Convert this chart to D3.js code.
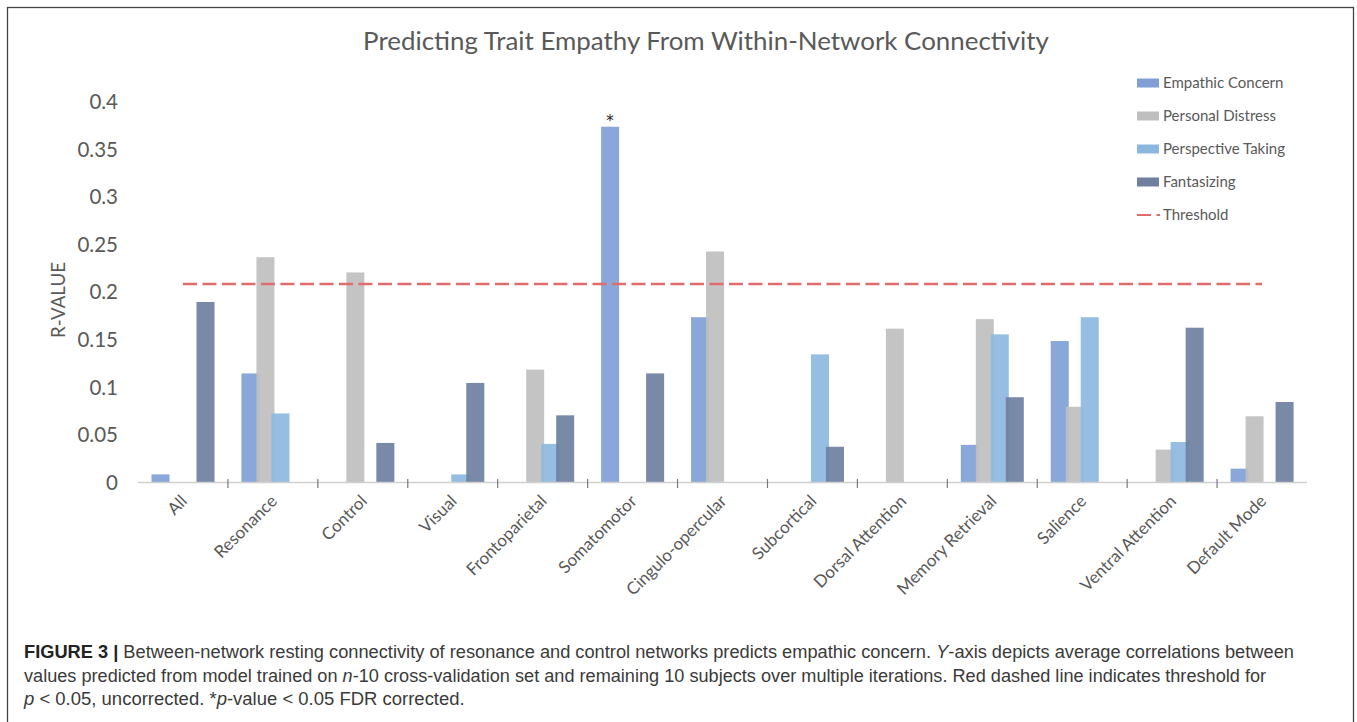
<!DOCTYPE html>
<html>
<head>
<meta charset="utf-8">
<script src="https://cdn.jsdelivr.net/npm/d3@7"></script>
<style>
  html, body { margin: 0; padding: 0; background: #ffffff; }
  svg { display: block; }
</style>
</head>
<body>
<svg id="chart" width="1357" height="722"></svg>
<script>
// ---------------- data ----------------
const categories = ["All", "Resonance", "Control", "Visual", "Frontoparietal", "Somatomotor",
  "Cingulo-opercular", "Subcortical", "Dorsal Attention", "Memory Retrieval", "Salience",
  "Ventral Attention", "Default Mode"];
const seriesNames = ["Empathic Concern", "Personal Distress", "Perspective Taking", "Fantasizing"];
const empathicConcern   = [0.008, 0.114, 0,     0,     0,     0.373, 0.173, 0,     0,     0.039, 0.148, 0,     0.014];
const personalDistress  = [0,     0.236, 0.220, 0,     0.118, 0,     0.242, 0,     0.161, 0.171, 0.079, 0.034, 0.069];
const perspectiveTaking = [0,     0.072, 0,     0.008, 0.040, 0,     0,     0.134, 0,     0.155, 0.173, 0.042, 0];
const fantasizing       = [0.189, 0,     0.041, 0.104, 0.070, 0.114, 0,     0.037, 0,     0.089, 0,     0.162, 0.084];
const thresholdValue = 0.208;
const yTicks = [0, 0.05, 0.1, 0.15, 0.2, 0.25, 0.3, 0.35, 0.4];
const significant = [{ category: "Somatomotor", series: "Empathic Concern", label: "*" }];
const titleText = "Predicting Trait Empathy From Within-Network Connectivity";
const yLabel = "R-VALUE";
const thresholdLabel = "Threshold";

// ---------------- styles ----------------
const seriesColors = ["#7f9fd5", "#bfbfbf", "#8cb8e0", "#6e7fa1"];
const textGray = "#595959";
const chartFont = "Lato, 'Open Sans', sans-serif";
const captionFont = "'Liberation Sans', Arial, sans-serif";

const seriesValues = [empathicConcern, personalDistress, perspectiveTaking, fantasizing];

const svg = d3.select("#chart");

// outer frame
svg.append("rect")
  .attr("x", 7.5).attr("y", 7.5).attr("width", 1346).attr("height", 740)
  .attr("fill", "none").attr("stroke", "#444").attr("stroke-width", 1.3);

// scales
const x = d3.scaleBand().domain(categories).range([138, 1307]).padding(0);
const xInner = d3.scaleBand().domain(seriesNames).range([13.5, 73.5]).padding(0);
const barW = xInner.bandwidth() * 1.2;
const y = d3.scaleLinear().domain([0, 0.4]).range([482, 101]);

function fitWidth(el, target) {
  const w = el.node().getComputedTextLength();
  const fs = parseFloat(el.attr("font-size"));
  el.attr("font-size", (fs * target / w).toFixed(2));
}

// title
const title = svg.append("text")
  .attr("x", 706).attr("y", 50)
  .attr("text-anchor", "middle")
  .attr("font-family", chartFont).attr("font-size", 22)
  .attr("fill", textGray)
  .text(titleText);
fitWidth(title, 686);

// y axis (labels only, no line)
const yAxis = d3.axisLeft(y).tickValues(yTicks).tickFormat(d => String(d)).tickSize(0).tickPadding(0);
const yG = svg.append("g").attr("transform", "translate(118,0)").call(yAxis);
yG.select(".domain").remove();
yG.selectAll("text")
  .attr("font-family", chartFont).attr("font-size", 20.5)
  .attr("fill", textGray).attr("dy", "0.36em");

// y label
const yl = svg.append("text")
  .attr("transform", "translate(65,300) rotate(-90)")
  .attr("text-anchor", "middle")
  .attr("font-family", chartFont).attr("font-size", 18)
  .attr("fill", textGray)
  .text(yLabel);
fitWidth(yl, 76);

// bars
const barsG = svg.append("g");
seriesNames.forEach((s, si) => {
  const data = categories.map((c, ci) => ({ c, v: seriesValues[si][ci] })).filter(d => d.v > 0);
  barsG.selectAll(null).data(data).enter().append("rect")
    .attr("x", d => x(d.c) + xInner(s))
    .attr("y", d => y(d.v))
    .attr("width", barW)
    .attr("height", d => y(0) - y(d.v))
    .attr("fill", seriesColors[si])
    .attr("fill-opacity", 0.92);
});

// x axis
const xAxisG = svg.append("g");
xAxisG.append("line")
  .attr("x1", x.range()[0]).attr("x2", x.range()[1])
  .attr("y1", y(0) + 0.5).attr("y2", y(0) + 0.5)
  .attr("stroke", "#d0d0d0").attr("stroke-width", 1.5);
xAxisG.selectAll(null).data(categories.slice(1)).enter().append("line")
  .attr("x1", d => x(d)).attr("x2", d => x(d))
  .attr("y1", y(0) - 3).attr("y2", y(0) + 6)
  .attr("stroke", "#7a7a7a").attr("stroke-width", 1.2);
xAxisG.selectAll(null).data(categories).enter().append("text")
  .attr("transform", d => `translate(${x(d) + x.bandwidth() / 2 + 1},${y(0) + 16}) rotate(-45)`)
  .attr("text-anchor", "end")
  .attr("dy", "0.35em")
  .attr("font-family", chartFont).attr("font-size", 17)
  .attr("fill", textGray)
  .text(d => d);

// threshold line (line series through category centres)
const thrLine = d3.line().x(d => x(d) + x.bandwidth() / 2).y(() => y(thresholdValue));
svg.append("path")
  .attr("d", thrLine([categories[0], categories[categories.length - 1]]))
  .attr("fill", "none")
  .attr("stroke", "#e06c6c").attr("stroke-width", 2.5)
  .attr("stroke-dasharray", "14,5.5");

// significance marks
significant.forEach(m => {
  const si = seriesNames.indexOf(m.series);
  const ci = categories.indexOf(m.category);
  svg.append("text")
    .attr("x", x(m.category) + xInner(m.series) + barW / 2)
    .attr("y", y(seriesValues[si][ci]) - 1)
    .attr("text-anchor", "middle")
    .attr("font-family", "'DejaVu Sans', sans-serif").attr("font-size", 15)
    .attr("fill", "#222")
    .text(m.label);
});

// legend
const legend = svg.append("g");
const legY0 = 83, legStep = 33;
seriesNames.forEach((s, i) => {
  const yy = legY0 + i * legStep;
  legend.append("rect").attr("x", 1137).attr("y", yy - 4.5).attr("width", 22).attr("height", 9)
    .attr("fill", seriesColors[i]);
  legend.append("text").attr("x", 1163).attr("y", yy).attr("dy", "0.35em")
    .attr("font-family", chartFont).attr("font-size", 15)
    .attr("fill", textGray).text(s);
});
{
  const yy = legY0 + 4 * legStep;
  legend.append("line").attr("x1", 1137).attr("x2", 1160).attr("y1", yy).attr("y2", yy)
    .attr("stroke", "#e06c6c").attr("stroke-width", 2).attr("stroke-dasharray", "14,5.5");
  legend.append("text").attr("x", 1163).attr("y", yy).attr("dy", "0.35em")
    .attr("font-family", chartFont).attr("font-size", 15)
    .attr("fill", textGray).text(thresholdLabel);
}

// caption
const captionLines = [
  { y: 658, target: 1271, parts: [
    { t: "FIGURE 3 |", b: true },
    { t: " Between-network resting connectivity of resonance and control networks predicts empathic concern. " },
    { t: "Y", i: true },
    { t: "-axis depicts average correlations between" } ] },
  { y: 682, target: 1243, parts: [
    { t: "values predicted from model trained on " },
    { t: "n", i: true },
    { t: "-10 cross-validation set and remaining 10 subjects over multiple iterations. Red dashed line indicates threshold for" } ] },
  { y: 705, target: 441, parts: [
    { t: "p", i: true },
    { t: " < 0.05, uncorrected. *" },
    { t: "p", i: true },
    { t: "-value < 0.05 FDR corrected." } ] }
];
captionLines.forEach(line => {
  const t = svg.append("text")
    .attr("font-family", captionFont).attr("font-size", 18.5)
    .attr("fill", "#3a3a3a")
    .attr("transform", `translate(24,${line.y})`);
  line.parts.forEach(p => {
    t.append("tspan")
      .attr("font-weight", p.b ? "bold" : null)
      .attr("font-style", p.i ? "italic" : null)
      .attr("fill", p.b ? "#222" : null)
      .text(p.t);
  });
  const w = t.node().getComputedTextLength();
  const k = line.target / w;
  t.attr("transform", `translate(24,${line.y}) scale(${k.toFixed(4)},1)`);
});
</script>
</body>
</html>
